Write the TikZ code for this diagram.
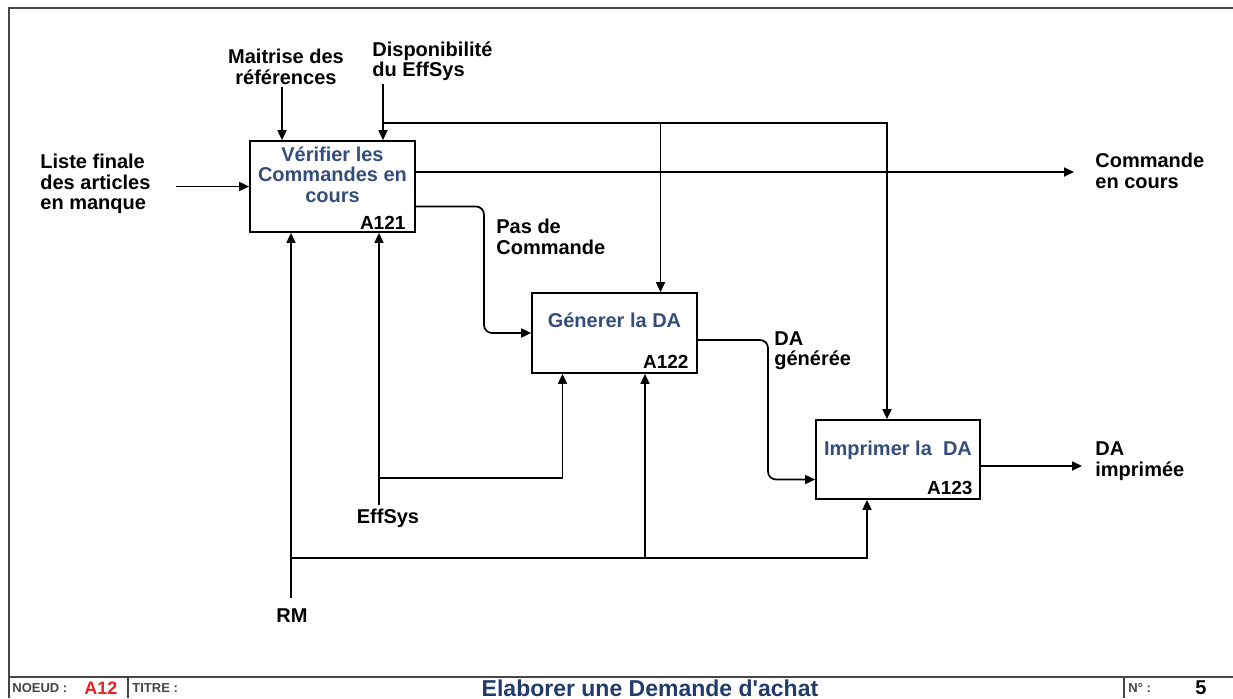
\documentclass[tikz,border=0pt]{standalone}
\usepackage{fontspec}
\setmainfont{Liberation Sans}
\usetikzlibrary{arrows.meta,positioning,calc}
\definecolor{darkblue}{RGB}{52,78,122}
\definecolor{titleblue}{RGB}{33,60,108}
\definecolor{nodered}{RGB}{235,30,35}
\definecolor{framegray}{RGB}{70,70,70}

\begin{document}
\begin{tikzpicture}[x=0.5pt, y=-0.5pt,
    box/.style={rectangle, draw=black, line width=0.85pt, fill=white, inner sep=0pt},
    boxtitle/.style={text=darkblue, font=\fontsize{10}{10.25}\selectfont\bfseries,
                     align=center, inner sep=0pt},
    boxnum/.style={font=\fontsize{9.5}{10}\selectfont\bfseries, inner sep=0pt, anchor=south east},
    flow/.style={font=\fontsize{10}{10.2}\selectfont\bfseries, inner sep=1pt},
    arrow/.style={-{Triangle[length=5pt,width=4.5pt]}, line width=0.85pt},
    small/.style={font=\fontsize{6.5}{7}\selectfont\bfseries, text=framegray, inner sep=0pt, anchor=west}
  ]
  \useasboundingbox (0,0) rectangle (1233,698);

  % cadre
  \draw[framegray, line width=1.1pt] (1233,8) -- (9,8) -- (9,698);
  \draw[framegray, line width=1.1pt] (9,677) -- (1233,677);
  \draw[framegray, line width=1.1pt] (128,677) -- (128,698);
  \draw[framegray, line width=1.1pt] (1124,677) -- (1124,698);

  % activites
  \node[box, minimum width=82.5pt, minimum height=45.5pt] (verif) at (332.5,186.5) {};
  \node[box, minimum width=82.5pt, minimum height=40pt] (gen) at (614.5,333) {};
  \node[box, minimum width=82pt, minimum height=39.5pt] (imp) at (898,459.5) {};

  \node[boxtitle, below=3pt of verif.north] (verifT) {Vérifier les\\Commandes en\\cours};
  \node[boxtitle, below=10pt of gen.north] (genT) {Génerer la DA};
  \node[boxtitle, below=10.5pt of imp.north] (impT) {Imprimer la\ \ DA};

  \node[boxnum] (verifN) at ([xshift=-5pt, yshift=1.5pt]verif.south east) {A121};
  \node[boxnum] (genN) at ([xshift=-4.5pt, yshift=2.5pt]gen.south east) {A122};
  \node[boxnum] (impN) at ([xshift=-4pt, yshift=2.5pt]imp.south east) {A123};

  % flux
  \node[flow, anchor=west, align=left] (liste) at (38,184) {Liste finale\\des articles\\en manque};
  \node[flow, align=center] (maitrise) at (286,67) {Maitrise des\\références};
  \node[flow, anchor=west, align=left] (dispo) at (370,61) {Disponibilité\\du EffSys};
  \node[flow, anchor=west, align=left] (cmd) at (1093,171) {Commande\\en cours};
  \node[flow, anchor=west, align=left] (pasCmd) at (494,237) {Pas de\\Commande};
  \node[flow, anchor=west, align=left] (daGen) at (772,351) {DA\\générée};
  \node[flow, anchor=west, align=left] (daImp) at (1093,461) {DA\\imprimée};
  \node[flow] (effsys) at (388,518) {EffSys};
  \node[flow] (rm) at (292,616) {RM};

  \coordinate (listeIn) at (176,186.5);
  \coordinate (maitIn) at (282,87);
  \coordinate (dispoIn) at (383,84);
  \coordinate (dispoJ) at (383,123);
  \coordinate (cmdOut) at (1074,172);
  \coordinate (pcBend) at (484,270);
  \coordinate (dgBend) at (768,410);
  \coordinate (impOut) at (1082,466);
  \coordinate (esIn) at (379,505);
  \coordinate (esJ) at (379,478);
  \coordinate (rmIn) at (291,598);
  \coordinate (rmJ) at (291,558);
  \coordinate (rmJ2) at (645,558);

  \draw[arrow] (listeIn) -- (verif.west);
  \draw[arrow] (maitIn) -- (maitIn |- verif.north);
  \draw[arrow] (dispoIn) -- (dispoIn |- verif.north);
  \draw[arrow] (dispoJ) -| ([xshift=23pt]gen.north);
  \draw[arrow] (dispoJ) -| ([xshift=-5.5pt]imp.north);
  \draw[arrow] (verif.east |- cmdOut) -- (cmdOut);
  \draw[arrow, rounded corners=4pt] ([yshift=-10pt]verif.east) -| (pcBend) |- (gen.west);
  \draw[arrow, rounded corners=4pt] ([yshift=-3.5pt]gen.east) -| (dgBend) |- ([yshift=-10pt]imp.west);
  \draw[arrow] (imp.east |- impOut) -- (impOut);

  \draw[arrow] (esIn) -- (esIn |- verif.south);
  \draw[arrow] (esJ) -| ([xshift=-26pt]gen.south);
  \draw[arrow] (rmIn) -- (rmIn |- verif.south);
  \draw[arrow] (rmJ) -| ([xshift=-15.5pt]imp.south);
  \draw[arrow] (rmJ2) -- (rmJ2 |- gen.south);

  % cartouche
  \node[small] (noeud) at (12,688) {NOEUD :};
  \node[font=\fontsize{9}{9}\selectfont\bfseries, text=nodered] (nodeNum) at (101,688) {A12};
  \node[small] (titre) at (132,688) {TITRE :};
  \node[font=\fontsize{11.5}{12}\selectfont\bfseries, text=titleblue] (titleTxt) at (650,688) {Elaborer une Demande d\textquotesingle achat};
  \node[small] (numLbl) at (1128,688) {N° :};
  \node[font=\fontsize{10}{10}\selectfont\bfseries] (pageNum) at (1201,688) {5};
\end{tikzpicture}
\end{document}
